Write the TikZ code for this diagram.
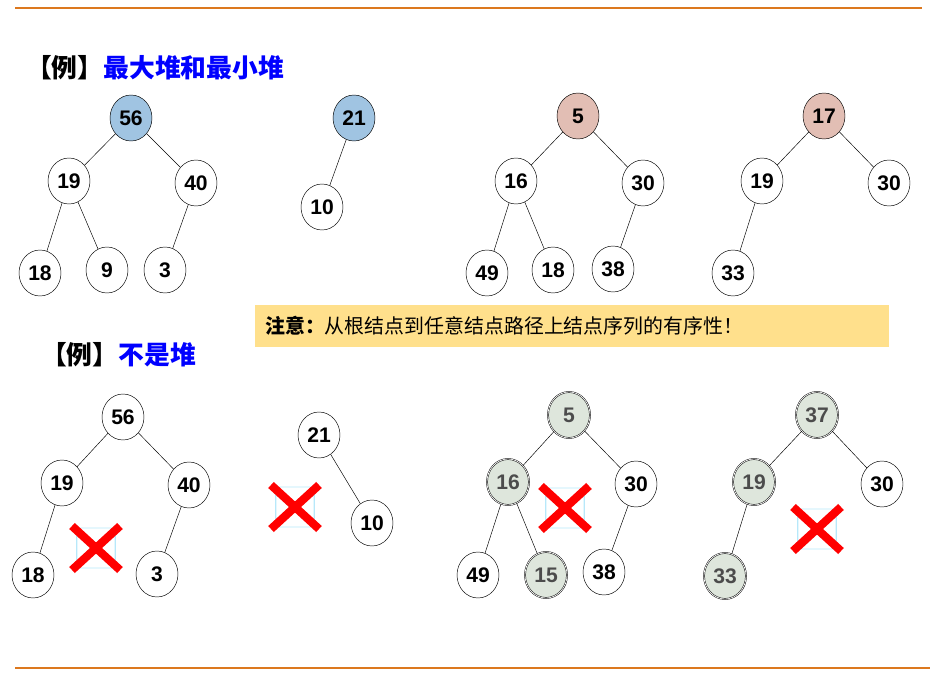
\documentclass[tikz,border=0pt]{standalone}
\usepackage{fontspec}
\setmainfont{Liberation Sans}
\newfontfamily\cjk{Noto Sans CJK SC}
\usetikzlibrary{positioning,shapes.geometric}
\definecolor{heapblue}{RGB}{160,196,226}
\definecolor{heappink}{RGB}{226,190,180}
\definecolor{heapgray}{RGB}{222,230,220}
\definecolor{notefill}{RGB}{255,224,140}
\definecolor{rulecol}{RGB}{220,120,30}
\begin{document}
\begin{tikzpicture}[x=0.03cm,y=-0.03cm,
  every node/.style={font=\bfseries\fontsize{18}{20}\selectfont},
  key/.style={ellipse,draw,thin,minimum width=1.26cm,minimum height=1.38cm,inner sep=0pt,fill=white},
  maxk/.style={key,fill=heapblue},
  mink/.style={key,fill=heappink},
  bad/.style={key,fill=heapgray,double,double distance=0.6pt,text=black!70},
  badbox/.style={draw=cyan!80,rounded corners=2pt,minimum width=1.15cm,minimum height=1.2cm},
  cross/.style={line width=7pt,red}
]
\useasboundingbox (0,0) rectangle (951,677);
% rules
\draw[rulecol,line width=1.2pt] (15,8) -- (922,8);
\draw[rulecol,line width=1.2pt] (15,668) -- (930,668);
% titles
\node[anchor=west,font=\cjk\bfseries\fontsize{22}{24}\selectfont] (t1) at (22,68) {【例】\textcolor{blue}{最大堆和最小堆}};
\node[anchor=west,font=\cjk\bfseries\fontsize{22}{24}\selectfont] (t2) at (37,355) {【例】\textcolor{blue}{不是堆}};
\node[anchor=west,fill=notefill,text width=18.4cm,minimum height=1.26cm,inner sep=0.3cm,align=left,font=\cjk\fontsize{17}{19}\selectfont] (note) at (255,326) {{\bfseries 注意：}从根结点到任意结点路径上结点序列的有序性！};

% tree A
\node[maxk] (a56) at (131,118) {56};
\node[key] (a19) at (69,181) {19};
\node[key] (a40) at (196,183) {40};
\node[key] (a18) at (40,273) {18};
\node[key] (a9) at (107,270) {9};
\node[key] (a3) at (165,270) {3};
\draw (a56) -- (a19); \draw (a56) -- (a40);
\draw (a19) -- (a18); \draw (a19) -- (a9); \draw (a40) -- (a3);

% tree B
\node[maxk] (b21) at (354,118) {21};
\node[key] (b10) at (322,207) {10};
\draw (b21) -- (b10);

% tree C
\node[mink] (c5) at (578,116) {5};
\node[key] (c16) at (516,181) {16};
\node[key] (c30) at (643,183) {30};
\node[key] (c49) at (487,273) {49};
\node[key] (c18) at (553,270) {18};
\node[key] (c38) at (613,269) {38};
\draw (c5) -- (c16); \draw (c5) -- (c30);
\draw (c16) -- (c49); \draw (c16) -- (c18); \draw (c30) -- (c38);

% tree D
\node[mink] (d17) at (824,116) {17};
\node[key] (d19) at (762,181) {19};
\node[key] (d30) at (889,183) {30};
\node[key] (d33) at (733,273) {33};
\draw (d17) -- (d19); \draw (d17) -- (d30); \draw (d19) -- (d33);

% tree E
\node[key] (e56) at (123,417) {56};
\node[key] (e19) at (62,483) {19};
\node[key] (e40) at (189,485) {40};
\node[key] (e18) at (33,575) {18};
\node[key] (e3) at (157,574) {3};
\draw (e56) -- (e19); \draw (e56) -- (e40);
\draw (e19) -- (e18); \draw (e40) -- (e3);
\node[badbox] (ex) at (96,548) {};
\draw[cross] (ex.center) ++(-24,-22) -- ++(48,44) (ex.center) ++(24,-22) -- ++(-48,44);

% tree F
\node[badbox] (fx) at (295,507) {};
\draw[cross] (fx.center) ++(-24,-22) -- ++(48,44) (fx.center) ++(24,-22) -- ++(-48,44);
\node[key] (f21) at (319,435) {21};
\node[key] (f10) at (372,523) {10};
\draw (f21) -- (f10);

% tree G
\node[bad] (g5) at (569,415) {5};
\node[bad] (g16) at (508,482) {16};
\node[key] (g30) at (636,484) {30};
\node[key] (g49) at (478,575) {49};
\node[bad] (g15) at (546,575) {15};
\node[key] (g38) at (604,572) {38};
\draw (g5) -- (g16); \draw (g5) -- (g30);
\draw (g16) -- (g49); \draw (g16) -- (g15); \draw (g30) -- (g38);
\node[badbox] (gx) at (565,508) {};
\draw[cross] (gx.center) ++(-24,-22) -- ++(48,44) (gx.center) ++(24,-22) -- ++(-48,44);

% tree H
\node[bad] (h37) at (817,415) {37};
\node[bad] (h19) at (754,482) {19};
\node[key] (h30) at (882,484) {30};
\node[bad] (h33) at (725,576) {33};
\draw (h37) -- (h19); \draw (h37) -- (h30); \draw (h19) -- (h33);
\node[badbox] (hx) at (817,529) {};
\draw[cross] (hx.center) ++(-24,-22) -- ++(48,44) (hx.center) ++(24,-22) -- ++(-48,44);
\end{tikzpicture}
\end{document}
